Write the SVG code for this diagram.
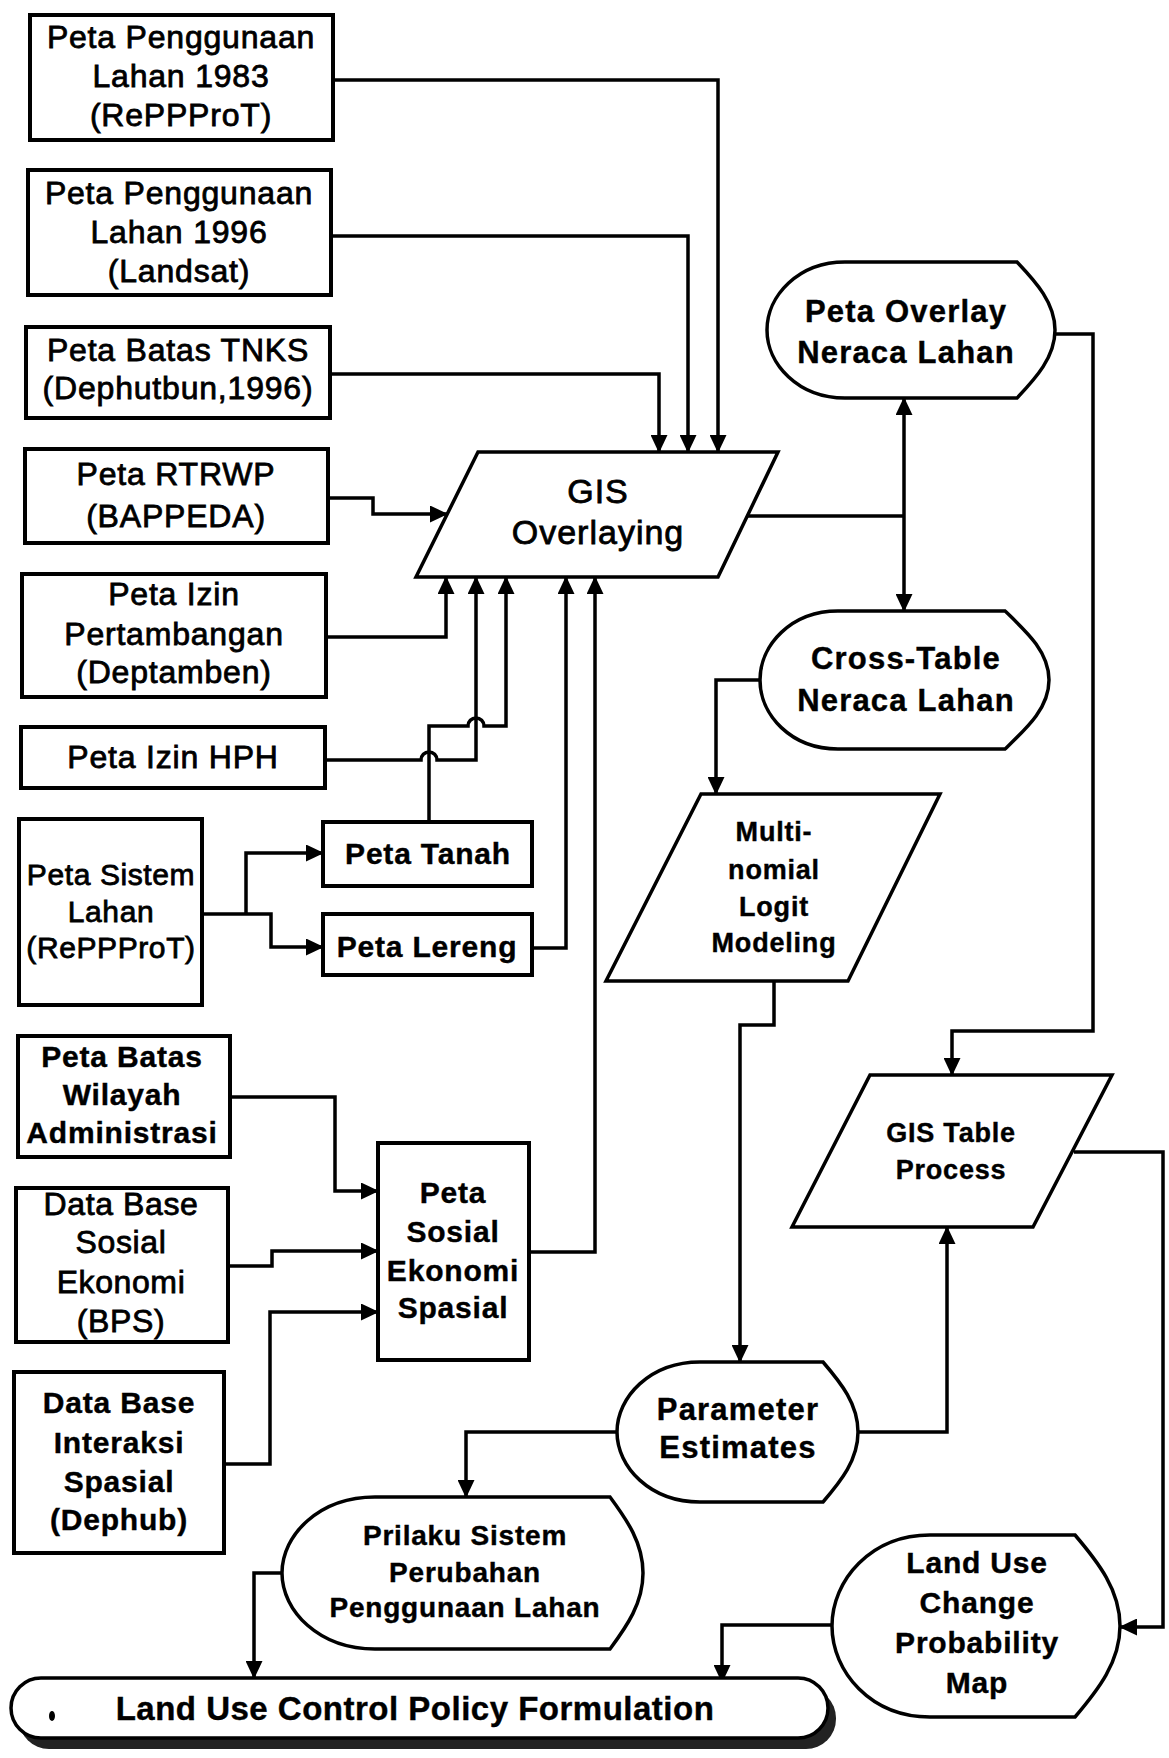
<svg xmlns="http://www.w3.org/2000/svg" width="1169" height="1758" viewBox="0 0 1169 1758">
<defs>
<marker id="ah" viewBox="0 0 18 17" refX="17" refY="8.5" markerWidth="18" markerHeight="17" markerUnits="userSpaceOnUse" orient="auto-start-reverse"><path d="M0,0 L18,8.5 L0,17 z" fill="#000"/></marker>
<style>
.box{fill:#fff;stroke:#000;stroke-width:4}
.shp{fill:#fff;stroke:#000;stroke-width:3.5}
.c{fill:none;stroke:#000;stroke-width:3.5;marker-end:url(#ah)}
text{font-family:"Liberation Sans",Arial,Helvetica,sans-serif;text-anchor:middle;fill:#000;stroke:#000}
.r{font-size:32px;letter-spacing:0.8px;stroke-width:0.8px}
.b{font-size:30px;font-weight:bold;letter-spacing:0.8px;stroke-width:0.4px}
.bl{font-size:31px;font-weight:bold;letter-spacing:1.2px;stroke-width:0.4px}
.bs{font-size:27px;font-weight:bold;letter-spacing:0.8px;stroke-width:0.4px}
</style>
</defs>
<rect width="1169" height="1758" fill="#fff"/>

<g id="connectors">
<path class="c" d="M333,80 H718 V452"/>
<path class="c" d="M331,236 H688 V452"/>
<path class="c" d="M330,374 H659 V452"/>
<path class="c" d="M328,498 H373 V514 H447"/>
<path class="c" d="M326,637 H446 V577"/>
<path class="c" d="M325,760 H421 a8,8 0 0 1 16,0 H476 V577"/>
<path class="c" d="M429,822 V726 H468 a8,8 0 0 1 16,0 H506 V577"/>
<path class="c" d="M532,948 H566 V577"/>
<path class="c" d="M529,1252 H595 V577"/>
<path class="c" d="M202,914 H271 V947 H323"/>
<path class="c" d="M246,914 V853 H323"/>
<path class="c" d="M230,1097 H335 V1191 H378"/>
<path class="c" d="M228,1266 H272 V1251 H378"/>
<path class="c" d="M224,1464 H270 V1312 H378"/>
<path fill="none" stroke="#000" stroke-width="3.5" d="M747,516 H904"/>
<path class="c" style="marker-start:url(#ah)" d="M904,398 V611"/>
<path class="c" d="M1055,334 H1093 V1031 H952 V1075"/>
<path class="c" d="M760,680 H716 V794"/>
<path class="c" d="M774,981 V1025 H740 V1362"/>
<path class="c" d="M858,1432 H947 V1227"/>
<path class="c" d="M617,1432 H466 V1497"/>
<path class="c" d="M1074,1152 H1163 V1627 H1120"/>
<path class="c" d="M282,1573 H254 V1678"/>
<path class="c" d="M832,1625 H722 V1682"/>
</g>

<g id="n1"><rect class="box" x="30" y="15" width="303" height="125"/>
<text class="r"><tspan x="181" y="48">Peta Penggunaan</tspan><tspan x="181" y="87">Lahan 1983</tspan><tspan x="181" y="126">(RePPProT)</tspan></text></g>
<g id="n2"><rect class="box" x="28" y="170" width="303" height="125"/>
<text class="r"><tspan x="179" y="204">Peta Penggunaan</tspan><tspan x="179" y="243">Lahan 1996</tspan><tspan x="179" y="282">(Landsat)</tspan></text></g>
<g id="n3"><rect class="box" x="26" y="327" width="304" height="91"/>
<text class="r"><tspan x="178" y="361">Peta Batas TNKS</tspan><tspan x="178" y="399">(Dephutbun,1996)</tspan></text></g>
<g id="n4"><rect class="box" x="25" y="449" width="303" height="94"/>
<text class="r"><tspan x="176" y="485">Peta RTRWP</tspan><tspan x="176" y="527">(BAPPEDA)</tspan></text></g>
<g id="n5"><rect class="box" x="22" y="574" width="304" height="123"/>
<text class="r"><tspan x="174" y="605">Peta Izin</tspan><tspan x="174" y="645">Pertambangan</tspan><tspan x="174" y="683">(Deptamben)</tspan></text></g>
<g id="n6"><rect class="box" x="21" y="727" width="304" height="61"/>
<text class="r"><tspan x="173" y="768">Peta Izin HPH</tspan></text></g>
<g id="n7"><rect class="box" x="19" y="819" width="183" height="186"/>
<text class="r" style="font-size:30px;letter-spacing:0.6px"><tspan x="111" y="885">Peta Sistem</tspan><tspan x="111" y="922">Lahan</tspan><tspan x="111" y="958">(RePPProT)</tspan></text></g>
<g id="n8"><rect class="box" x="323" y="822" width="209" height="64"/>
<text class="b"><tspan x="428" y="864">Peta Tanah</tspan></text></g>
<g id="n9"><rect class="box" x="323" y="914" width="209" height="61"/>
<text class="b"><tspan x="427" y="957">Peta Lereng</tspan></text></g>
<g id="n10"><rect class="box" x="18" y="1036" width="212" height="121"/>
<text class="b"><tspan x="122" y="1067">Peta Batas</tspan><tspan x="122" y="1105">Wilayah</tspan><tspan x="122" y="1143">Administrasi</tspan></text></g>
<g id="n11"><rect class="box" x="16" y="1188" width="212" height="154"/>
<text class="r" style="letter-spacing:0.6px"><tspan x="121" y="1215">Data Base</tspan><tspan x="121" y="1253">Sosial</tspan><tspan x="121" y="1293">Ekonomi</tspan><tspan x="121" y="1332">(BPS)</tspan></text></g>
<g id="n12"><rect class="box" x="14" y="1372" width="210" height="181"/>
<text class="b"><tspan x="119" y="1413">Data Base</tspan><tspan x="119" y="1453">Interaksi</tspan><tspan x="119" y="1492">Spasial</tspan><tspan x="119" y="1530">(Dephub)</tspan></text></g>
<g id="n13"><rect class="box" x="378" y="1143" width="151" height="217"/>
<text class="b"><tspan x="453" y="1203">Peta</tspan><tspan x="453" y="1242">Sosial</tspan><tspan x="453" y="1281">Ekonomi</tspan><tspan x="453" y="1318">Spasial</tspan></text></g>

<g id="gis-overlaying"><path class="shp" d="M478,452 L778,452 L718,577 L416,577 Z"/>
<text class="r" style="font-size:34px;letter-spacing:1px"><tspan x="598" y="503">GIS</tspan><tspan x="598" y="544">Overlaying</tspan></text></g>

<g id="peta-overlay"><path class="shp" d="M845,262 L1017,262 C1036,282 1055,303 1055,330 C1055,357 1036,378 1017,398 L845,398 C798,398 767,364 767,330 C767,296 798,262 845,262 Z"/>
<text class="bl"><tspan x="906" y="322">Peta Overlay</tspan><tspan x="906" y="363">Neraca Lahan</tspan></text></g>

<g id="cross-table"><path class="shp" d="M838,611 L1005,611 C1027,632 1049,652 1049,680 C1049,708 1027,728 1005,749 L838,749 C791,749 760,715 760,680 C760,645 791,611 838,611 Z"/>
<text class="bl"><tspan x="906" y="669">Cross-Table</tspan><tspan x="906" y="711">Neraca Lahan</tspan></text></g>

<g id="multinomial"><path class="shp" d="M701,794 L940,794 L848,981 L606,981 Z"/>
<text class="bs"><tspan x="774" y="841">Multi-</tspan><tspan x="774" y="879">nomial</tspan><tspan x="774" y="916">Logit</tspan><tspan x="774" y="952">Modeling</tspan></text></g>

<g id="gis-table"><path class="shp" d="M870,1075 L1112,1075 L1033,1227 L792,1227 Z"/>
<text class="bs"><tspan x="951" y="1142">GIS Table</tspan><tspan x="951" y="1179">Process</tspan></text></g>

<g id="parameter"><path class="shp" d="M700,1362 L823,1362 C841,1383 858,1404 858,1432 C858,1460 841,1481 823,1502 L700,1502 C650,1502 617,1467 617,1432 C617,1397 650,1362 700,1362 Z"/>
<text class="bl"><tspan x="738" y="1420">Parameter</tspan><tspan x="738" y="1458">Estimates</tspan></text></g>

<g id="prilaku"><path class="shp" d="M375,1497 L610,1497 C627,1520 643,1543 643,1573 C643,1603 627,1626 610,1649 L375,1649 C319,1649 282,1611 282,1573 C282,1535 319,1497 375,1497 Z"/>
<text class="bs" style="font-size:28px"><tspan x="465" y="1545">Prilaku Sistem</tspan><tspan x="465" y="1582">Perubahan</tspan><tspan x="465" y="1617">Penggunaan Lahan</tspan></text></g>

<g id="probability-map"><path class="shp" d="M930,1535 L1075,1535 C1098,1562 1120,1590 1120,1626 C1120,1662 1098,1690 1075,1717 L930,1717 C871,1717 832,1672 832,1626 C832,1580 871,1535 930,1535 Z"/>
<text class="b"><tspan x="977" y="1573">Land Use</tspan><tspan x="977" y="1613">Change</tspan><tspan x="977" y="1653">Probability</tspan><tspan x="977" y="1693">Map</tspan></text></g>

<g id="policy"><rect x="19" y="1688" width="817" height="61" rx="30" fill="#222"/>
<rect class="shp" x="11" y="1678" width="817" height="60" rx="30"/>
<text class="b" style="font-size:33px;letter-spacing:0.5px"><tspan x="415" y="1720">Land Use Control Policy Formulation</tspan></text>
<ellipse cx="52" cy="1716" rx="3" ry="5" fill="#000"/></g>
</svg>
